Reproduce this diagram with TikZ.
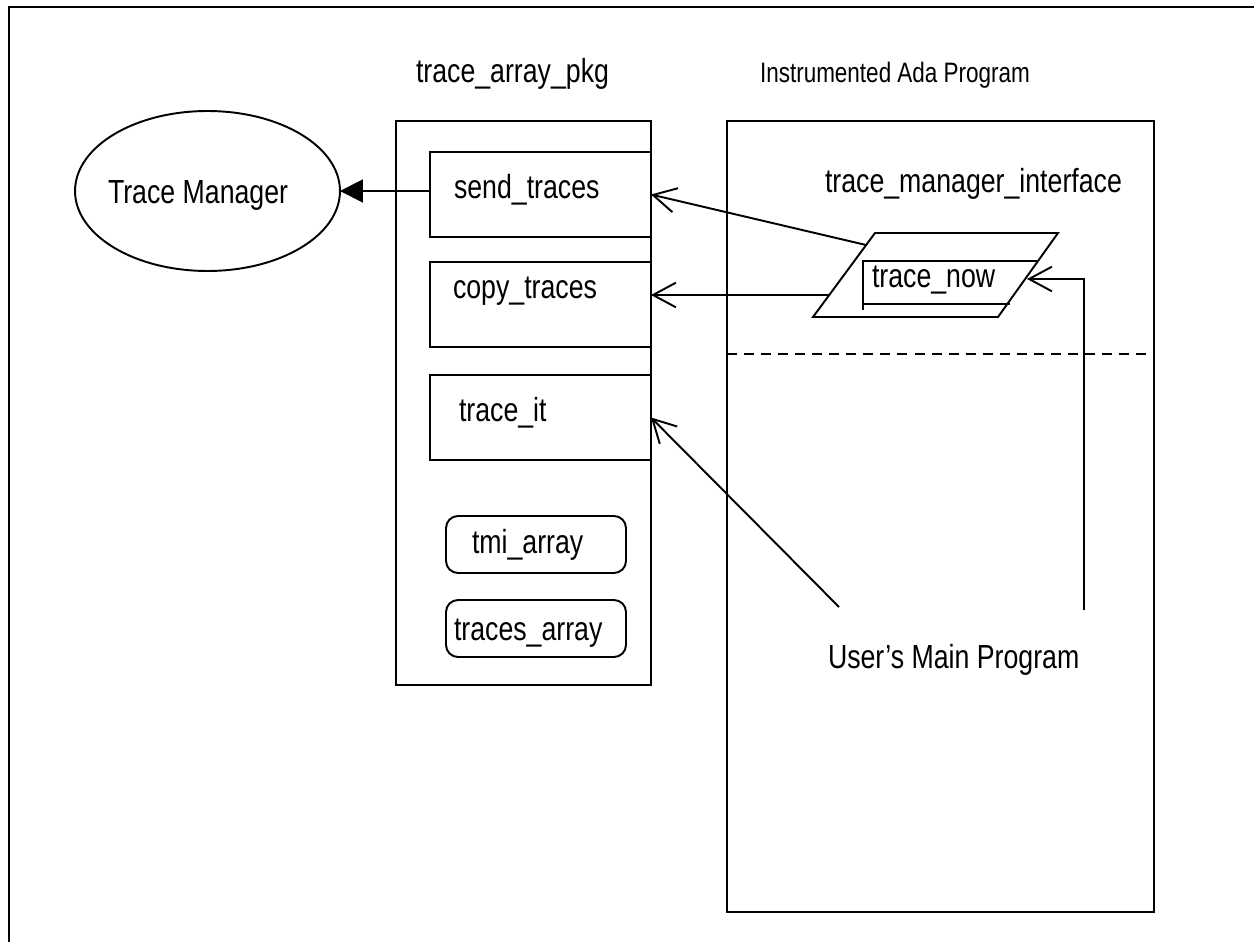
\documentclass[tikz,border=0pt]{standalone}
\usepackage{fontspec}
\setmainfont[FakeStretch=0.8]{Liberation Sans}
\usetikzlibrary{arrows.meta,shapes.geometric}
\tikzstyle{every node}=[font=\fontsize{19}{22}\selectfont, inner sep=0pt, outer sep=0pt]
\tikzstyle{box}=[draw, rectangle, line width=1.1pt]
\tikzstyle{slot}=[draw, rectangle, rounded corners=0.24cm, line width=1.1pt, minimum width=3.6cm, minimum height=1.14cm]
\tikzstyle{proc}=[draw, rectangle, line width=1.1pt, minimum width=4.42cm, minimum height=1.7cm]
\tikzstyle{call}=[line width=1.1pt, -{Straight Barb[length=13pt,width=14pt]}]
\tikzstyle{send}=[line width=1.1pt, -{Triangle[length=13pt,width=13pt]}]

\begin{document}
\begin{tikzpicture}[x=0.02cm, y=-0.02cm, line width=1.1pt]
\useasboundingbox (0,0) rectangle (1254,942);
% Frame
    \draw[line width=1.6pt] (1254,7) -- (9,7) -- (9,942);
% Trace manager
    \node[draw, ellipse, line width=1.1pt, minimum width=5.3cm, minimum height=3.2cm] (tm) at (207.5,191) {};
    \node[anchor=base west] (tmtxt) at (108,204) {Trace Manager};
% trace_array_pkg
    \node[anchor=base west] (pkgtxt) at (416,83) {trace\_array\_pkg};
    \node[box, minimum width=5.1cm, minimum height=11.28cm] (pkg) at (523.5,403) {};
    \node[proc] (sendt) at (540.5,194.5) {};
    \node[proc] (copyt) at (540.5,304.5) {};
    \node[proc] (tracei) at (540.5,417.5) {};
    \node[anchor=base west] (sendtxt) at (454,199) {send\_traces};
    \node[anchor=base west] (copytxt) at (453,299) {copy\_traces};
    \node[anchor=base west] (traceitxt) at (459,421) {trace\_it};
    \node[slot] (tmi) at (536,544.5) {};
    \node[slot] (traces) at (536,628.5) {};
    \node[anchor=base west] (tmitxt) at (472,553) {tmi\_array};
    \node[anchor=base west] (tracestxt) at (454,640) {traces\_array};
% Instrumented Ada program
    \node[anchor=base west, font=\fontsize{16}{19}\selectfont] (adatxt) at (760,83) {Instrumented Ada Program};
    \node[box, minimum width=8.54cm, minimum height=15.82cm] (ada) at (940.5,516.5) {};
    \node[anchor=base west] (tmitf) at (825,193) {trace\_manager\_interface};
    \draw[dashed, dash pattern=on 5.7pt off 4pt] (ada.west |- 0,354) -- (ada.east |- 0,354);
    \coordinate (ptl) at (875,233);
    \coordinate (ptr) at (1058,233);
    \coordinate (pbr) at (998,317);
    \coordinate (pbl) at (813,317);
    \draw (ptl) -- (ptr) -- (pbr) -- (pbl) -- cycle;
    \draw (1037,261) -- (863,261) -- (863,310);
    \draw (863,304) -- (1010,304);
    \node[anchor=base west] (nowtxt) at (872,288) {trace\_now};
    \node[anchor=base west] (usertxt) at (828,668) {User's Main Program};
% Calls
    \coordinate (ifa) at (866,245);
    \coordinate (ifb) at (829,295);
    \coordinate (nowin) at (1027,279);
    \coordinate (userl) at (839,607);
    \coordinate (userr) at (1084,610);
    \draw[send] (sendt.west |- tm.east) -- (tm.east);
    \draw[call] (ifa) -- (sendt.east);
    \draw[call] (ifb) -- (copyt.east |- ifb);
    \draw[call] (userl) -- (tracei.east);
    \draw[call] (userr) |- (nowin);
\end{tikzpicture}
\end{document}
